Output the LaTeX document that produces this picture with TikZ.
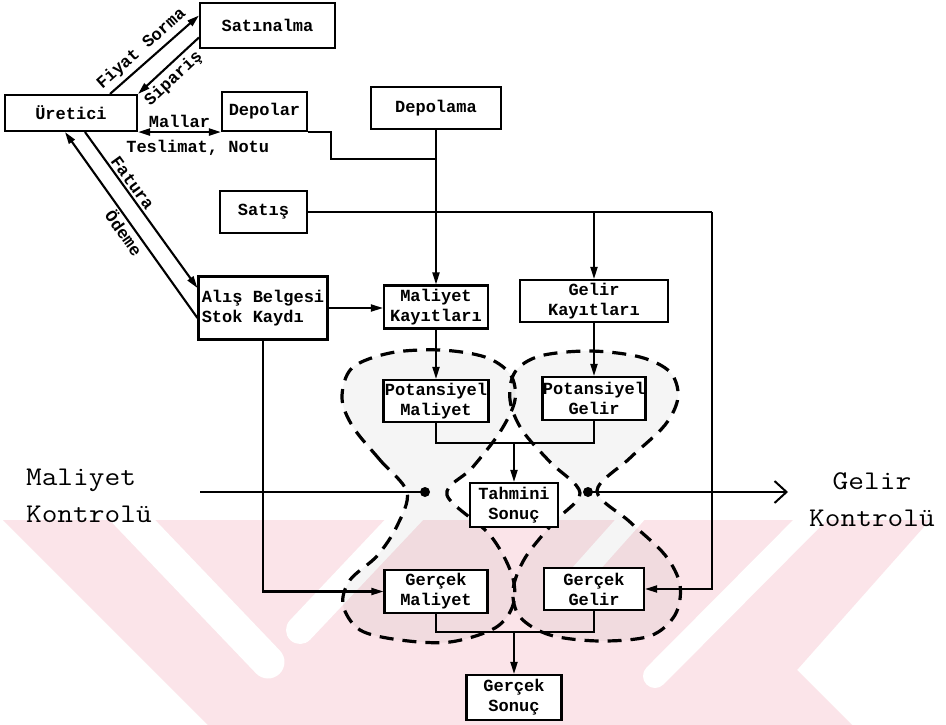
\documentclass[tikz,border=0pt]{standalone}
\usepackage{fontspec}
\usetikzlibrary{arrows.meta,calc}
\definecolor{wm}{RGB}{251,228,233}
\newfontfamily\lblfam{Liberation Mono}
\newfontfamily\ctrlfam{Latin Modern Mono}[FakeStretch=1.13]
\newcommand\lblfont{\fontsize{17}{20}\selectfont\lblfam\bfseries}
\newcommand\ctrlfont{\fontsize{27}{37}\selectfont\ctrlfam}
\begin{document}
\begin{tikzpicture}[x=1pt,y=-1pt,line width=2.1pt,
  box/.style={draw,line width=2.1pt,fill=white,inner sep=0pt,align=center,font=\lblfont},
  elab/.style={font=\lblfont,inner sep=2pt},
  arr/.style={-{Triangle[length=12pt,width=7pt]}},
  rarr/.style={{Triangle[length=12pt,width=7pt]}-},
  both/.style={{Triangle[length=12pt,width=7pt]}-{Triangle[length=12pt,width=7pt]}},
  lobe/.style={draw,line width=3.2pt,dash pattern=on 14pt off 9pt,fill=black,fill opacity=0.04,draw opacity=1},
  ctrl/.style={font=\ctrlfont,inner sep=0pt}]
\useasboundingbox (0,0) rectangle (946,725);
\fill[white] (0,0) rectangle (946,725);

% faint background emblem
\fill[wm] (3,520) -- (930,520) -- (797,670) -- (852,725) -- (208,725) -- cycle;
\draw[white,line width=33pt,line cap=round] (118,505) -- (268,662);
\draw[white,line width=28pt,line cap=round] (418,505) -- (300,630);
\draw[white,line width=24pt,line cap=round] (825,505) -- (655,676);
\draw[white,line width=22pt,line cap=round] (643,505) -- (560,598);

% hourglass regions
\path[lobe] plot[smooth cycle,tension=0.55] coordinates {
  (407,492) (380,460) (353,427) (342,398) (352,368) (390,353) (440,350) (485,357)
  (510,374) (515,400) (500,432) (472,468) (447,495) (490,535) (512,575) (513,605)
  (495,628) (450,642) (400,640) (360,630) (343,605) (350,580) (377,556) (397,526)};
\path[lobe] plot[smooth cycle,tension=0.55] coordinates {
  (580,493) (550,462) (522,430) (510,400) (515,372) (540,356) (590,351) (640,357)
  (670,372) (678,397) (665,425) (630,458) (597,491) (630,522) (665,555) (680,585)
  (675,615) (650,636) (600,641) (550,635) (520,617) (513,590) (525,558) (553,523)};

% boxes
\node[box,minimum width=132pt,minimum height=36pt] (ure) at (71,113) {Üretici};
\node[box,minimum width=135pt,minimum height=45pt] (sat) at (267.5,25.5) {Satınalma};
\node[box,minimum width=85pt,minimum height=39pt] (dep) at (264.5,111.5) {Depolar};
\node[box,minimum width=130pt,minimum height=42pt] (dpm) at (436,108) {Depolama};
\node[box,minimum width=87pt,minimum height=42pt] (sts) at (263.5,212) {Satış};
\node[box,align=left,minimum width=129pt,minimum height=63pt] (alis) at (263,308) {Alış Belgesi\\Stok Kaydı};
\node[box,minimum width=104pt,minimum height=43pt] (mk) at (436,307) {Maliyet\\Kayıtları};
\node[box,minimum width=148pt,minimum height=42pt] (gk) at (594,301) {Gelir\\Kayıtları};
\node[box,minimum width=105pt,minimum height=42pt] (pm) at (436,401) {Potansiyel\\Maliyet};
\node[box,minimum width=103pt,minimum height=43pt] (pg) at (594,398.5) {Potansiyel\\Gelir};
\node[box,minimum width=88pt,minimum height=44pt] (ts) at (514,505) {Tahmini\\Sonuç};
\node[box,minimum width=103pt,minimum height=43pt] (gm) at (436,591.5) {Gerçek\\Maliyet};
\node[box,minimum width=100pt,minimum height=42pt] (gg) at (594,589) {Gerçek\\Gelir};
\node[box,minimum width=95pt,minimum height=45pt] (gs) at (514,697.5) {Gerçek\\Sonuç};

% junction points
\coordinate (jd) at (436,159);
\coordinate (sr) at (712,212);
\coordinate (jt) at (514,443);
\coordinate (jg) at (514,632);
\coordinate (mstart) at (200,492);
\coordinate (gend) at (788,492);
\node[circle,fill,inner sep=0pt,minimum size=10pt] (dl) at (425,492) {};
\node[circle,fill,inner sep=0pt,minimum size=10pt] (dr) at (588,492) {};

% supplier exchanges
\draw[arr] ([xshift=39pt]ure.north) -- ([yshift=10pt]sat.west)
  node[elab,pos=0.45,sloped,above=2pt] {Fiyat Sorma};
\draw[rarr] (ure.north east) -- ([yshift=-12pt]sat.west)
  node[elab,pos=0.44,sloped,below=2pt] {Sipariş};
\draw[both] (ure.south east) -- (dep.south west)
  node[elab,midway,above=1pt] {Mallar}
  node[elab,pos=0.72,below=5pt] {Teslimat, Notu};
\draw[arr] ([xshift=14pt]ure.south) -- ([yshift=20pt]alis.west)
  node[elab,pos=0.36,sloped,above] {Fatura};
\draw[rarr] ([xshift=-6pt]ure.south) -- ([yshift=-10pt]alis.west)
  node[elab,pos=0.51,sloped,below] {Ödeme};

% record flows
\draw (dep.south east) -- ++(23,0) |- (jd);
\draw[arr] (dpm.south) -- (mk.north);
\draw (sts.east) -- (sr);
\draw[arr] (sts.east -| gk.north) -- (gk.north);
\draw[arr] (sr) |- (gg.east);
\draw[arr] (alis.east) -- (alis.east -| mk.west);
\draw[arr] (alis.south) |- (gm.west);
\draw[arr] (mk.south) -- (pm.north);
\draw[arr] (gk.south) -- (pg.north);
\draw (pm.south) |- (jt) -| (pg.south);
\draw[arr] (jt) -- (ts.north);
\draw (gm.south) |- (jg) -| (gg.south);
\draw[arr] (jg) -- (gs.north);

% control lines
\draw (mstart) -- (dl.center);
\draw[-{Straight Barb[length=12pt,width=22pt,line width=2pt]}] (dr.center) -- (gend);
\node[ctrl,align=left,anchor=north west] (mlab) at (25,468) {Maliyet\\Kontrolü};
\node[ctrl,align=center,anchor=north] (glab) at (872,472) {Gelir\\Kontrolü};
\end{tikzpicture}
\end{document}
